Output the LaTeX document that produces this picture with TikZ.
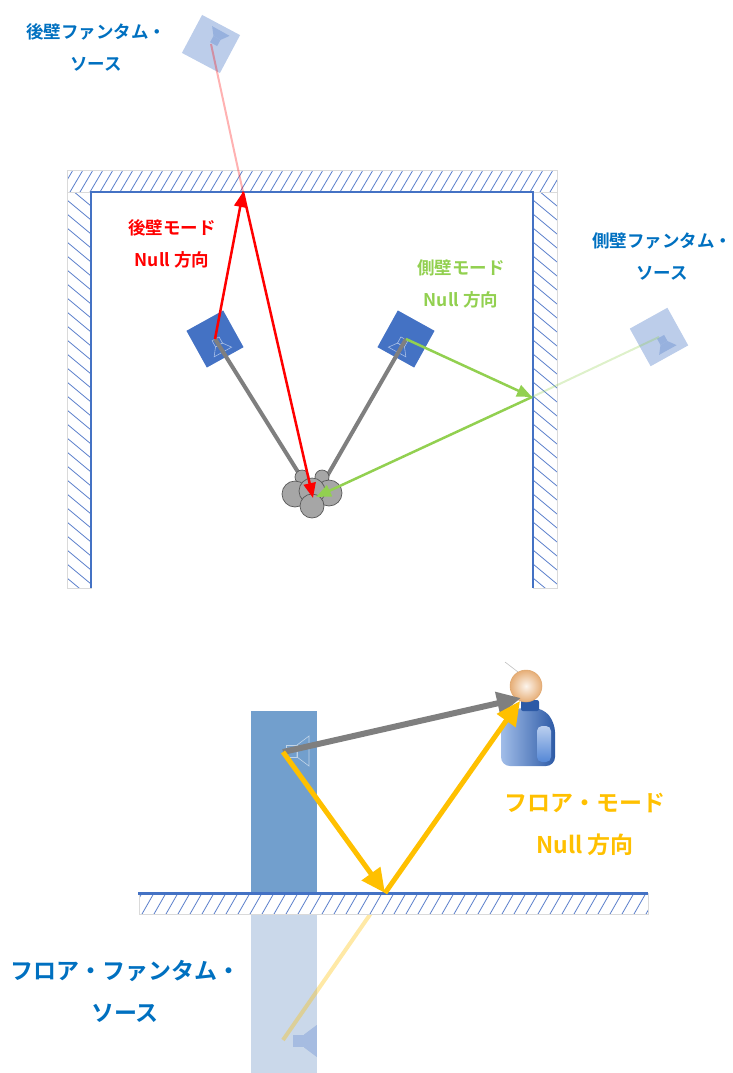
\documentclass[tikz,border=0pt]{standalone}
\usepackage{fontspec}
\newfontfamily\jpfont{Noto Sans CJK JP}[BoldFont=* Bold]
\usetikzlibrary{arrows.meta}

\definecolor{wallblue}{HTML}{4472C4}
\definecolor{hatchblue}{HTML}{5B7FCB}
\definecolor{bandgray}{HTML}{DADADA}
\definecolor{ghostblue}{HTML}{BCCDEA}
\definecolor{conelight}{HTML}{A9BFE6}
\definecolor{ghostcone}{HTML}{8EAADB}
\definecolor{raygray}{HTML}{7F7F7F}
\definecolor{nullred}{HTML}{FF0000}
\definecolor{nullgreen}{HTML}{92D050}
\definecolor{nullyellow}{HTML}{FFC000}
\definecolor{labelblue}{HTML}{0070C0}
\definecolor{cabinet}{HTML}{729FCD}
\definecolor{ghostcab}{HTML}{CAD8EA}
\definecolor{headgray}{HTML}{A6A6A6}
\definecolor{skin}{HTML}{EDB680}
\definecolor{shirt}{HTML}{5487D6}
\definecolor{shirtdark}{HTML}{2D5AA6}

\tikzstyle{hatch} = [hatchblue, line width=0.8pt]
\tikzstyle{band} = [draw=bandgray, line width=0.8pt]
\tikzstyle{wall} = [wallblue, line width=2pt]
\tikzstyle{speaker} = [fill=wallblue, minimum size=42pt, inner sep=0pt]
\tikzstyle{ghost} = [fill=ghostblue, minimum size=43pt, inner sep=0pt]
\tikzstyle{direct} = [raygray, line width=4pt]
\tikzstyle{refl} = [line width=2.5pt, -{Triangle[length=15pt,width=12pt]}]
\tikzstyle{fade} = [line width=2pt, opacity=0.3]
\tikzstyle{lbl} = [font=\jpfont\bfseries\fontsize{17.5}{32}\selectfont, align=center]
\tikzstyle{biglbl} = [font=\jpfont\bfseries\fontsize{23}{42}\selectfont, align=center]
\tikzstyle{bigtip} = [-{Triangle[length=24pt,width=22pt]}]

% small loudspeaker symbol, opening towards +x
\tikzset{
  driver/.pic={
    \path[pic actions] (-7,-4) rectangle (0,4);
    \path[pic actions] (0,-4) -- (8,-10) -- (8,10) -- (0,4) -- cycle;
  }
}

\begin{document}
\begin{tikzpicture}[x=1pt, y=-1pt]
\useasboundingbox (0,0) rectangle (733,1073);

%%% top view of the room
% back wall
\begin{scope}
  \clip (67,170) rectangle (557,192);
  \foreach \x in {50,60,...,570}
    \draw[hatch] (\x,192) -- (\x+13,170);
\end{scope}
\draw[band] (67,170) rectangle (557,192);
% side walls
\foreach \l in {67,533} {
  \begin{scope}
    \clip (\l,192) rectangle (\l+24,588);
    \foreach \y in {172,186,...,600}
      \draw[hatch] (\l,\y) -- (\l+24,\y+20);
  \end{scope}
  \draw[band] (\l,192) rectangle (\l+24,588);
}
\draw[wall] (91,588) -- (91,192) -- (533,192) -- (533,588);

\coordinate (bwall) at (243,192);
\coordinate (swall) at (532,397);
\coordinate (lsn) at (312,494);

% phantom sources
\node[ghost, rotate=-28] (bghost) at (211,44) {};
\pic[fill=ghostcone!80!ghostblue, rotate=61] at (217,38) {driver};
\node[ghost, rotate=29] (sghost) at (659,337) {};
\pic[fill=ghostcone!80!ghostblue, rotate=-61] at (664,343) {driver};
\draw[fade, nullred] (bwall) -- (bghost.center);
\draw[fade, nullgreen] (swall) -- (sghost.center);

% loudspeakers
\node[speaker, rotate=29] (lspk) at (215,339) {};
\pic[draw=conelight, line width=0.6pt, rotate=-61] at (219,345) {driver};
\node[speaker, rotate=-29] (rspk) at (406,339) {};
\pic[draw=conelight, line width=0.6pt, rotate=-119] at (401,345) {driver};

\draw[direct] (lspk.center) -- (303,480);
\draw[direct] (rspk.center) -- (326,478);

% listener seen from above
\begin{scope}[shift={(lsn)}, draw=black!65, fill=headgray, line width=0.7pt]
  \filldraw (-10,-17) circle[radius=7pt];
  \filldraw (10,-17) circle[radius=7pt];
  \filldraw (-17,0) circle[radius=13pt];
  \filldraw (17,-1) circle[radius=13pt];
  \filldraw (0,-3) circle[radius=13pt];
  \filldraw (0,12) circle[radius=12pt];
\end{scope}

% reflected paths
\draw[refl, nullred] (lspk.center) -- (bwall);
\draw[refl, nullred] (bwall) -- (313,498);
\draw[refl, nullgreen] (rspk.center) -- (swall);
\draw[refl, nullgreen] (swall) -- (316,497);

\node[lbl, text=labelblue] (bglbl) at (96,47) {後壁ファンタム・\\ソース};
\node[lbl, text=labelblue] (sglbl) at (662,256) {側壁ファンタム・\\ソース};
\node[lbl, text=nullred] (bnull) at (172,244) {後壁モード\\Null 方向};
\node[lbl, text=nullgreen] (snull) at (461,284) {側壁モード\\Null 方向};

%%% side view of the floor
\coordinate (fspk) at (283,752);
\coordinate (flr) at (385,893);
\coordinate (fghost) at (283,1040);
\coordinate (head) at (526,686);

\fill[ghostcab] (251,914) rectangle (317,1073);
\pic[fill=ghostcone!60!ghostcab, scale=1.6] at (304,1041) {driver};
\draw[nullyellow, line width=4pt, opacity=0.35] (flr) -- (fghost);

% floor
\begin{scope}
  \clip (139,893) rectangle (648,914);
  \fill[white] (139,893) rectangle (648,914);
  \foreach \x in {130,142,...,660}
    \draw[hatch] (\x,914) -- (\x+12,893);
\end{scope}
\draw[band] (139,893) rectangle (648,914);
\fill[cabinet] (251,711) rectangle (317,893);
\draw[wallblue, line width=3pt] (138,893) -- (648,893);
\pic[draw=white!55!cabinet, line width=0.6pt, scale=1.5] at (297,751) {driver};

% listener
\draw[black!25, line width=0.6pt] (505,662) -- (518,672);
\shade[left color=shirt!55!white, right color=shirtdark, rounded corners=9pt]
  (501,766) -- (501,724) -- (514,708) -- (543,708) -- (555,723) -- (555,766) -- cycle;
\shade[top color=shirt!40!white, bottom color=shirt, rounded corners=5pt]
  (537,726) rectangle (551,762);
\fill[shirtdark, rounded corners=2pt] (521,700) rectangle (539,711);
\shade[inner color=white!85!skin, outer color=skin!85!brown] (head) circle[radius=16pt];
\draw[skin!70!brown, line width=0.5pt] (head) circle[radius=16pt];

\draw[raygray, line width=6pt, bigtip] (fspk) -- (521,698);
\draw[nullyellow, line width=5pt, bigtip] (fspk) -- (flr);
\draw[nullyellow, line width=5pt, bigtip] (flr) -- (520,701);

\node[biglbl, text=nullyellow] (fnull) at (585,824) {フロア・モード\\Null 方向};
\node[biglbl, text=labelblue] (fglbl) at (125,991) {フロア・ファンタム・\\ソース};
\end{tikzpicture}
\end{document}
